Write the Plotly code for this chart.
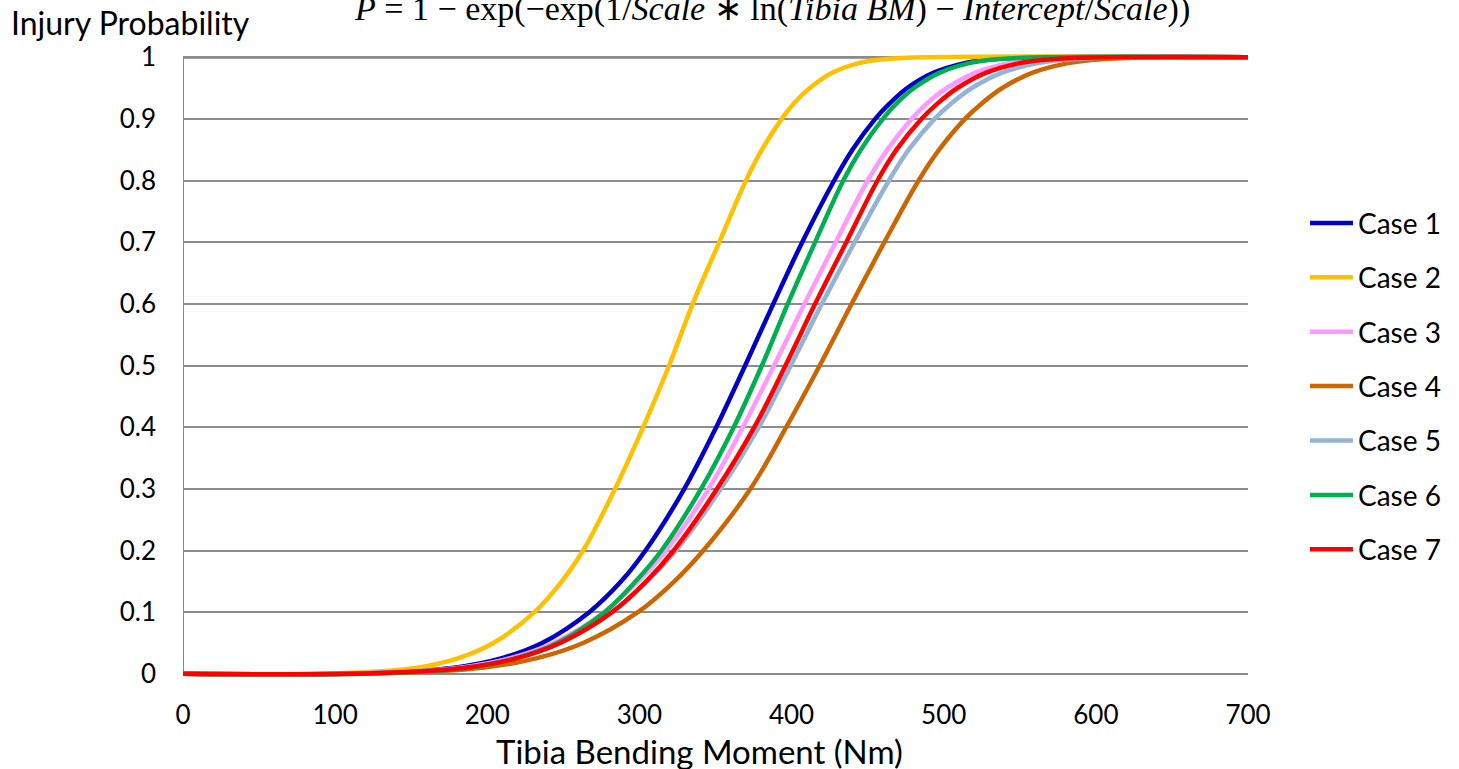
import plotly.graph_objects as go

prob_levels = [0, 0.001, 0.01, 0.025, 0.05, 0.1, 0.15, 0.2, 0.3, 0.4, 0.5, 0.6, 0.7, 0.8,
               0.85, 0.9, 0.925, 0.95, 0.975, 0.99, 0.995, 0.999, 1]

case1_bm = [0, 119, 178, 209, 236, 267, 288, 304, 329.5, 350.5, 369.5, 388, 407, 428,
            440, 455, 464.5, 476, 493.5, 513, 525.5, 550, 700]
case2_bm = [0, 103, 154, 180.5, 204, 231, 249, 263, 284, 302.5, 319.5, 335, 352.5, 370,
            380.5, 393.5, 401.5, 412, 427, 443.5, 454.5, 476, 700]
case3_bm = [0, 120, 182, 214.5, 243.5, 277, 299, 317.5, 345.5, 368, 388.5, 408.5, 429, 450,
            463, 479, 489, 502, 521, 542, 556, 583, 700]
case4_bm = [0, 131, 197, 232, 263, 299, 323, 342, 373, 396.5, 418.5, 439.5, 461, 483.5,
            497, 514, 525, 538.5, 558.5, 581, 595.5, 624.5, 700]
case5_bm = [0, 120, 183.5, 217, 247, 282, 305, 324, 353.5, 378.5, 399.5, 420, 441.5, 464,
            477, 494, 505, 518.5, 538.5, 561, 575.5, 604, 700]
case6_bm = [0, 128, 187.5, 218.5, 246, 277, 297.5, 314.5, 340.5, 362, 380.5, 397.5, 415.5, 434,
            445.5, 460, 469, 480.5, 497.5, 516, 528, 552, 700]
case7_bm = [0, 123, 185.5, 219, 248, 282, 304.5, 322.5, 351, 375.5, 396, 415.5, 436, 456.5,
            469, 485.5, 496, 509, 528, 549, 563, 590.5, 700]

case_names = ["Case 1", "Case 2", "Case 3", "Case 4", "Case 5", "Case 6", "Case 7"]
case_data = [case1_bm, case2_bm, case3_bm, case4_bm, case5_bm, case6_bm, case7_bm]
case_colors = ["#0000C8", "#FFC000", "#FF99FF", "#CC6600", "#95B3D7", "#00B050", "#FF0000"]

x_ticks = [0, 100, 200, 300, 400, 500, 600, 700]
y_ticks = [0, 0.1, 0.2, 0.3, 0.4, 0.5, 0.6, 0.7, 0.8, 0.9, 1]
y_tick_text = ["0", "0.1", "0.2", "0.3", "0.4", "0.5", "0.6", "0.7", "0.8", "0.9", "1"]

FONT = "Lato"

fig = go.Figure()
for name, xs, col in zip(case_names, case_data, case_colors):
    fig.add_trace(go.Scatter(
        x=xs, y=prob_levels, mode="lines", name=name,
        line=dict(color=col, width=4.5, shape="spline", smoothing=1.0),
        legendgroup=name,
    ))

fig.update_layout(
    width=1459, height=769,
    margin=dict(l=183, r=211, t=51, b=89),
    paper_bgcolor="white", plot_bgcolor="white",
    font=dict(family=FONT, size=26, color="black"),
    showlegend=True,
    legend=dict(
        x=1.0535, y=0.766, xanchor="left", yanchor="top",
        font=dict(family=FONT, size=28, color="black"),
        tracegroupgap=15, itemwidth=43,
        bgcolor="rgba(0,0,0,0)", borderwidth=0,
    ),
    xaxis=dict(
        range=[0, 700], tickvals=x_ticks, showgrid=False, zeroline=False,
        showline=False, ticks="", tickfont=dict(family=FONT, size=26),
        ticklabelstandoff=17,
    ),
    yaxis=dict(
        range=[-0.01, 1.01], tickvals=y_ticks, ticktext=y_tick_text,
        showgrid=True, gridcolor="#8C8C8C", gridwidth=1.5, zeroline=False,
        showline=False, ticks="", tickfont=dict(family=FONT, size=26),
        ticklabelstandoff=26,
    ),
)

# top border of plot area and left axis line
fig.add_shape(type="line", xref="x", yref="y", x0=0, x1=700, y0=1, y1=1,
              line=dict(color="#404040", width=2.5), layer="below")
fig.add_shape(type="line", xref="x", yref="y", x0=0, x1=0, y0=0, y1=1,
              line=dict(color="#868686", width=2), layer="below")

fig.add_annotation(text="Injury Probability", xref="paper", yref="paper",
                   x=-0.163, y=1.046, xanchor="left", yanchor="middle",
                   showarrow=False, font=dict(family=FONT, size=32))
fig.add_annotation(text="Tibia Bending Moment (Nm)", xref="paper", yref="paper",
                   x=0.485, y=-0.1135, xanchor="center", yanchor="middle",
                   showarrow=False, font=dict(family=FONT, size=33))
fig.add_annotation(
    text="<i>P</i> = 1 − exp(−exp(1/<i>Scale</i> ∗ ln(<i>Tibia BM</i>) − <i>Intercept</i>/<i>Scale</i>))",
    xref="paper", yref="paper", x=0.553, y=1.066, xanchor="center", yanchor="middle",
    showarrow=False, font=dict(family="Liberation Serif", size=34))

fig.write_html("out.html")
